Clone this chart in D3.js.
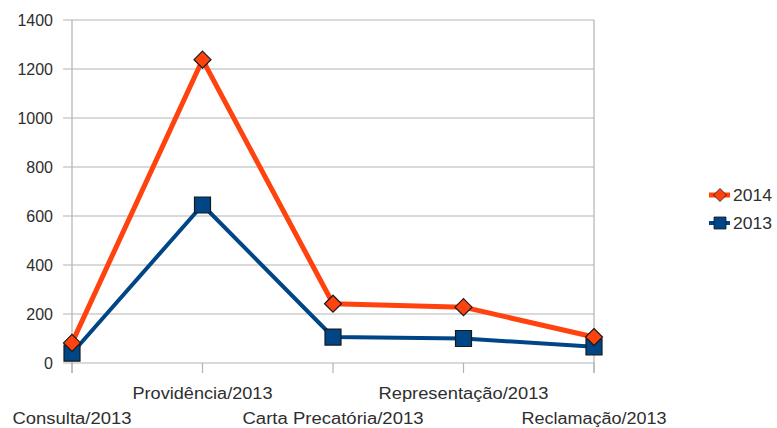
<!DOCTYPE html>
<html>
<head>
<meta charset="utf-8">
<script src="https://cdn.jsdelivr.net/npm/d3@7"></script>
<style>
  html, body { margin: 0; padding: 0; background: #fff; }
  svg text { font-family: "Liberation Sans", Arial, sans-serif; fill: #2e2e2e; }
</style>
</head>
<body>
<svg id="chart" width="777" height="428"></svg>
<script>
const categories = ["Consulta/2013", "Providência/2013", "Carta Precatória/2013", "Representação/2013", "Reclamação/2013"];
const values2014 = [82, 1238, 242, 228, 106];
const values2013 = [40, 645, 106, 100, 66];
const yTicks = [0, 200, 400, 600, 800, 1000, 1200, 1400];

const series = [
  { name: "2014", values: values2014, color: "#ff420e", width: 5, marker: "diamond" },
  { name: "2013", values: values2013, color: "#004586", width: 4, marker: "square" }
];

const svg = d3.select("#chart");
const plotLeft = 72, plotRight = 594, plotTop = 20, plotBottom = 363;

const x = d3.scalePoint().domain(categories).range([plotLeft, plotRight]);
const y = d3.scaleLinear().domain([0, 1400]).range([plotBottom, plotTop]);

// horizontal gridlines with short outer ticks
svg.append("g")
  .selectAll("line")
  .data(yTicks)
  .join("line")
  .attr("x1", plotLeft - 9).attr("x2", plotRight)
  .attr("y1", d => y(d)).attr("y2", d => y(d))
  .attr("stroke", "#b3b3b3").attr("stroke-width", 1.2);

// y axis labels
const yAxis = d3.axisLeft(y).tickValues(yTicks).tickFormat(d3.format("d")).tickSize(0).tickPadding(19);
const yg = svg.append("g").attr("transform", `translate(${plotLeft},0)`).call(yAxis);
yg.select(".domain").remove();
yg.selectAll("text").attr("font-size", 16).style("fill", "#2e2e2e")
  .attr("font-family", "Liberation Sans, Arial, sans-serif");

// vertical axis lines and category ticks
svg.append("line").attr("x1", plotLeft).attr("x2", plotLeft).attr("y1", plotTop).attr("y2", plotBottom + 10)
  .attr("stroke", "#b3b3b3").attr("stroke-width", 1.2);
svg.append("line").attr("x1", plotRight).attr("x2", plotRight).attr("y1", plotTop).attr("y2", plotBottom + 10)
  .attr("stroke", "#b3b3b3").attr("stroke-width", 1.2);
svg.append("g")
  .selectAll("line")
  .data(categories)
  .join("line")
  .attr("x1", d => x(d)).attr("x2", d => x(d))
  .attr("y1", plotBottom).attr("y2", plotBottom + 10)
  .attr("stroke", "#b3b3b3").attr("stroke-width", 1.2);

// staggered category labels, stretched to their drawn widths
const labelWidths = [119, 140, 181, 170, 145];
svg.append("g")
  .selectAll("text")
  .data(categories)
  .join("text")
  .attr("x", d => x(d))
  .attr("y", (d, i) => i % 2 === 0 ? 424 : 399)
  .attr("text-anchor", "middle")
  .attr("font-size", 16)
  .attr("textLength", (d, i) => labelWidths[i])
  .attr("lengthAdjust", "spacingAndGlyphs")
  .text(d => d);

// lines
const line = d3.line().x((d, i) => x(categories[i])).y(d => y(d));
const markerPath = (type, cx, cy) => {
  if (type === "diamond") {
    const r = 8.5;
    return `M${cx},${cy - r}L${cx + r},${cy}L${cx},${cy + r}L${cx - r},${cy}Z`;
  }
  const h = 8;
  return `M${cx - h},${cy - h}H${cx + h}V${cy + h}H${cx - h}Z`;
};

// blue series first so the red one sits on top
[...series].reverse().forEach(s => {
  svg.append("path")
    .datum(s.values)
    .attr("d", line)
    .attr("fill", "none")
    .attr("stroke", s.color)
    .attr("stroke-width", s.width)
    .attr("stroke-linejoin", "round");
});
[...series].reverse().forEach(s => {
  svg.append("g")
    .selectAll("path")
    .data(s.values)
    .join("path")
    .attr("d", (d, i) => markerPath(s.marker, x(categories[i]), y(d)))
    .attr("fill", s.color)
    .attr("stroke", "#1a1a1a")
    .attr("stroke-width", 1.2);
});

// legend
const legend = svg.append("g");
series.forEach((s, i) => {
  const ly = 195 + i * 28;
  legend.append("line")
    .attr("x1", 709).attr("x2", 730).attr("y1", ly).attr("y2", ly)
    .attr("stroke", s.color).attr("stroke-width", s.width);
  const mp = s.marker === "diamond"
    ? `M${720},${ly - 6.5}L${726.5},${ly}L${720},${ly + 6.5}L${713.5},${ly}Z`
    : `M${714},${ly - 6}H${726}V${ly + 6}H${714}Z`;
  legend.append("path").attr("d", mp).attr("fill", s.color)
    .attr("stroke", "#1a1a1a").attr("stroke-width", 0.8);
  legend.append("text")
    .attr("x", 733).attr("y", ly + 6)
    .attr("font-size", 16)
    .attr("textLength", 39)
    .attr("lengthAdjust", "spacingAndGlyphs")
    .text(s.name);
});
</script>
</body>
</html>
